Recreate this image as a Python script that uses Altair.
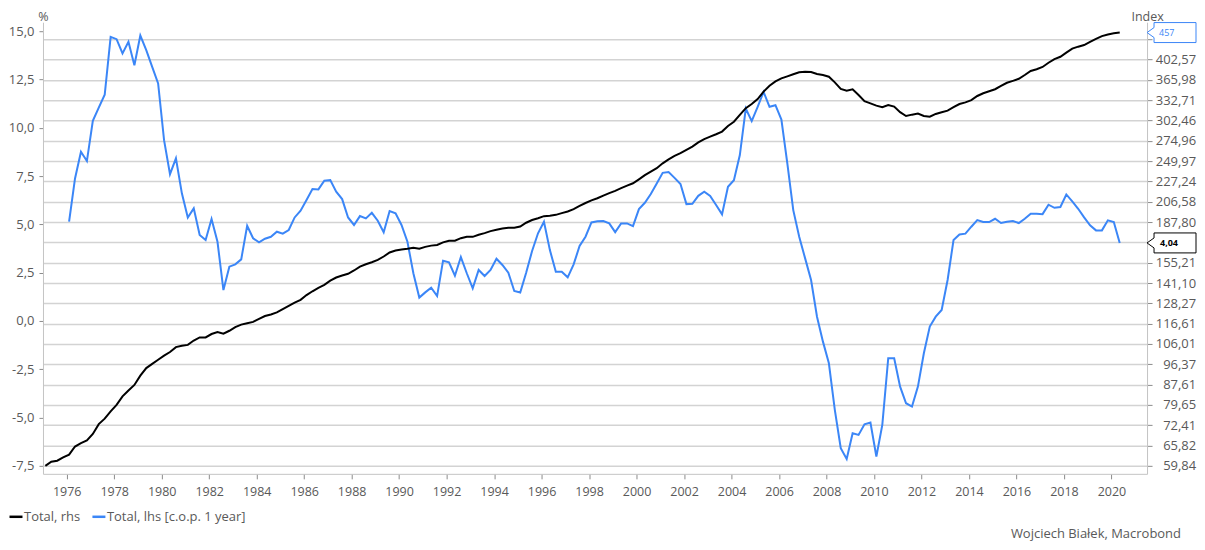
import altair as alt
import pandas as pd

LHS = "Total, lhs [c.o.p. 1 year]"
RHS = "Total, rhs"
SOURCE = "Wojciech Białek, Macrobond"

# Total, lhs [c.o.p. 1 year] (%), quarterly from early 1976
blue = [5.14, 7.38, 8.76, 8.28, 10.36, 11.05, 11.71, 14.71, 14.59, 13.85,
        14.45, 13.24, 14.78, 14.02, 13.16, 12.30, 9.36, 7.60, 8.42, 6.61,
        5.36, 5.83, 4.45, 4.19, 5.28, 4.10, 1.60, 2.81, 2.93, 3.19,
        4.93, 4.28, 4.07, 4.26, 4.36, 4.62, 4.52, 4.71, 5.36, 5.71,
        6.26, 6.83, 6.81, 7.26, 7.29, 6.69, 6.31, 5.36, 4.97, 5.43,
        5.31, 5.60, 5.19, 4.59, 5.69, 5.57, 4.97, 4.10, 2.47, 1.21,
        1.48, 1.72, 1.29, 3.12, 3.04, 2.34, 3.31, 2.47, 1.69, 2.64,
        2.33, 2.64, 3.22, 2.90, 2.50, 1.55, 1.47, 2.50, 3.62, 4.54,
        5.14, 3.67, 2.55, 2.55, 2.26, 2.93, 3.88, 4.36, 5.10, 5.16,
        5.17, 5.05, 4.60, 5.05, 5.05, 4.91, 5.79, 6.12, 6.57, 7.12,
        7.67, 7.71, 7.41, 7.09, 6.05, 6.07, 6.48, 6.69, 6.47, 6.00,
        5.52, 6.95, 7.29, 8.59, 11.00, 10.35, 11.09, 11.86, 11.09, 11.17,
        10.43, 8.16, 5.74, 4.36, 3.24, 2.12, 0.22, -1.07, -2.19, -4.60,
        -6.59, -7.15, -5.81, -5.90, -5.35, -5.26, -7.02, -5.38, -1.93, -1.93,
        -3.40, -4.26, -4.43, -3.40, -1.67, -0.29, 0.22, 0.57, 2.12, 4.19,
        4.48, 4.52, 4.88, 5.22, 5.12, 5.12, 5.29, 5.07, 5.14, 5.17,
        5.07, 5.29, 5.55, 5.55, 5.53, 6.02, 5.86, 5.90, 6.55, 6.19,
        5.81, 5.36, 4.95, 4.69, 4.69, 5.21, 5.12, 4.04]

# Total, rhs (index), quarterly from early 1975
black = [59.84, 61.02, 61.31, 62.28, 63.08, 65.52, 66.59, 67.43, 69.50, 72.78,
         74.67, 77.27, 79.65, 82.91, 85.25, 87.48, 91.35, 94.67, 96.53, 98.43,
         100.33, 102.09, 104.46, 105.08, 105.55, 107.74, 109.31, 109.31, 111.08, 112.12,
         111.24, 112.79, 114.72, 116.08, 116.83, 117.58, 119.30, 120.85, 121.76, 122.92,
         124.87, 126.76, 128.68, 130.39, 133.35, 135.75, 137.97, 139.86, 142.72, 144.80,
         146.19, 147.37, 149.65, 152.43, 154.09, 155.52, 157.27, 159.79, 162.85, 164.37,
         165.13, 165.67, 166.43, 165.67, 167.19, 168.18, 168.71, 170.78, 172.13, 172.13,
         174.14, 175.24, 175.24, 176.93, 178.34, 180.03, 181.11, 182.20, 182.80, 182.80,
         183.89, 187.25, 189.68, 191.26, 193.10, 193.38, 194.30, 195.88, 197.36, 199.57,
         202.62, 205.40, 208.01, 210.05, 212.70, 215.13, 217.47, 220.22, 222.86, 225.30,
         229.56, 234.04, 238.06, 241.86, 247.45, 252.12, 256.17, 259.49, 263.56, 267.61,
         273.01, 277.30, 280.41, 283.65, 287.17, 294.87, 300.70, 310.48, 320.46, 326.84,
         334.44, 346.39, 356.20, 363.42, 368.54, 372.16, 375.75, 379.34, 380.43, 379.88,
         376.30, 374.51, 371.43, 361.79, 350.81, 348.02, 350.31, 341.00, 331.32, 327.90,
         324.33, 321.94, 325.36, 322.82, 314.50, 308.99, 310.93, 312.41, 308.99, 307.97,
         311.96, 314.50, 316.89, 321.94, 326.84, 329.38, 332.81, 339.36, 343.79, 347.05,
         350.31, 355.73, 361.12, 364.38, 367.85, 374.51, 381.68, 384.75, 388.89, 396.61,
         403.38, 407.92, 415.86, 423.75, 427.73, 431.08, 437.64, 443.63, 449.52, 453.00,
         455.50, 457.00]

blue_start = 1976.1
black_start = 1975.1
x_ticks = list(range(1976, 2021, 2))
left_ticks = [-7.5, -5.0, -2.5, 0.0, 2.5, 5.0, 7.5, 10.0, 12.5, 15.0]
right_ticks = [59.84, 65.82, 72.41, 79.65, 87.61, 96.37, 106.01, 116.61, 128.27,
               141.10, 155.21, 170.73, 187.80, 206.58, 227.24, 249.97, 274.96,
               302.46, 332.71, 365.98, 402.57, 442.83]

W, H = 1105, 452
FONT = "Open Sans"
GRAY = "#595959"
BLUE = "#3b86f7"
DOMAIN = "#c4c4c4"
TICK = "#8c8c8c"

df_b = pd.DataFrame({"t": [blue_start + 0.25 * i for i in range(len(blue))],
                     "v": blue, "s": LHS})
df_k = pd.DataFrame({"t": [black_start + 0.25 * i for i in range(len(black))],
                     "v": black, "s": RHS})
last_b = pd.DataFrame({"v": [blue[-1]], "lab": [f"{blue[-1]:.2f}".replace(".", ",")]})
last_k = pd.DataFrame({"v": [black[-1]], "lab": [f"{black[-1]:.0f}"]})
src = pd.DataFrame({"lab": [SOURCE]})

xenc = alt.X("t:Q", scale=alt.Scale(domain=[1975.0, 2021.5], nice=False, zero=False),
             axis=alt.Axis(values=x_ticks, format="d", title=None, grid=False,
                           domainColor=DOMAIN, tickColor=TICK, tickSize=5,
                           labelPadding=6.5, labelFontSize=12.5, labelColor=GRAY,
                           labelFont=FONT, labelFlush=False))

color = alt.Color("s:N", scale=alt.Scale(domain=[RHS, LHS], range=["#000000", BLUE]),
                  legend=alt.Legend(title=None, orient="none", legendX=-35, legendY=487,
                                    direction="horizontal", symbolType="stroke",
                                    symbolSize=169, symbolStrokeWidth=2.5,
                                    labelFontSize=13, labelColor=GRAY, labelFont=FONT,
                                    columnPadding=6, labelOffset=0, padding=0))

y_left_scale = alt.Scale(domain=[-7.915, 15.468], nice=False, zero=False)
left_axis = alt.Axis(orient="left", values=left_ticks,
                     labelExpr="replace(replace(format(datum.value, '.1f'), '.', ','), '−', '-')",
                     grid=False, title="%", titleAngle=0, titleX=0, titleY=-12,
                     titleAlign="center", titleBaseline="top", titleFont=FONT,
                     titleFontSize=12.5, titleFontWeight="normal", titleColor=GRAY,
                     labelFont=FONT, labelFontSize=13, labelColor=GRAY,
                     domainColor=DOMAIN, tickColor=TICK, tickSize=4, labelPadding=5)

y_right_scale = alt.Scale(type="log", domain=[57.64, 479.74], nice=False, zero=False)
right_axis = alt.Axis(orient="right", values=right_ticks,
                      labelExpr="(datum.value > 440 || (datum.value > 170 && datum.value < 171)) ? '' : replace(format(datum.value, '.2f'), '.', ',')",
                      grid=True, gridColor="#d3d3d3", gridWidth=1.5,
                      title="Index", titleAngle=0, titleX=0, titleY=-12,
                      titleAlign="center", titleBaseline="top", titleFont=FONT,
                      titleFontSize=12.5, titleFontWeight="normal", titleColor=GRAY,
                      labelFont=FONT, labelFontSize=13, labelColor=GRAY, labelAlign="right",
                      labelOverlap=False,
                      domainColor=DOMAIN, tickColor=TICK, tickSize=5, labelPadding=43.7)

box_path = ("M -1 0 L -0.714 -0.204 L -0.714 -0.408 L 1 -0.408 L 1 0.408 "
            "L -0.714 0.408 L -0.714 0.204 Z")

yl = alt.Y("v:Q", scale=y_left_scale, axis=left_axis)
yr = alt.Y("v:Q", scale=y_right_scale, axis=right_axis)

blue_line = alt.Chart(df_b).mark_line(strokeWidth=2).encode(x=xenc, y=yl, color=color)
blue_box = alt.Chart(last_b).mark_point(
    shape=box_path, size=2401, filled=True, fill="white", stroke="#000000",
    strokeWidth=1, opacity=1, fillOpacity=1, strokeOpacity=1
).encode(x=alt.value(W + 24.5), y=yl)
blue_lab = alt.Chart(last_b).mark_text(
    align="left", baseline="middle", fontSize=9, fontWeight="bold", font=FONT,
    color="#000000"
).encode(x=alt.value(W + 13), y=yl, text="lab:N")
src_text = alt.Chart(src).mark_text(
    align="right", baseline="middle", fontSize=13, font=FONT, color=GRAY
).encode(x=alt.value(1139), y=alt.value(512), text="lab:N")

black_line = alt.Chart(df_k).mark_line(strokeWidth=2).encode(x=xenc, y=yr, color=color)
black_box = alt.Chart(last_k).mark_point(
    shape=box_path, size=2401, filled=True, fill="white", stroke=BLUE,
    strokeWidth=1, opacity=1, fillOpacity=1, strokeOpacity=1
).encode(x=alt.value(W + 24.5), y=yr)
black_lab = alt.Chart(last_k).mark_text(
    align="left", baseline="middle", fontSize=9, font=FONT, color=BLUE
).encode(x=alt.value(W + 12), y=yr, text="lab:N")

left_group = alt.layer(blue_line, blue_box, blue_lab, src_text)
right_group = alt.layer(black_line, black_box, black_lab)

chart = alt.layer(left_group, right_group).resolve_scale(y="independent").properties(
    width=W, height=H,
    autosize=alt.AutoSizeParams(type="none"),
    padding={"left": 35, "top": 14, "right": 50, "bottom": 68},
).configure_view(stroke=None)

chart.save("out.html", embed_options={"renderer": "svg", "actions": False})
